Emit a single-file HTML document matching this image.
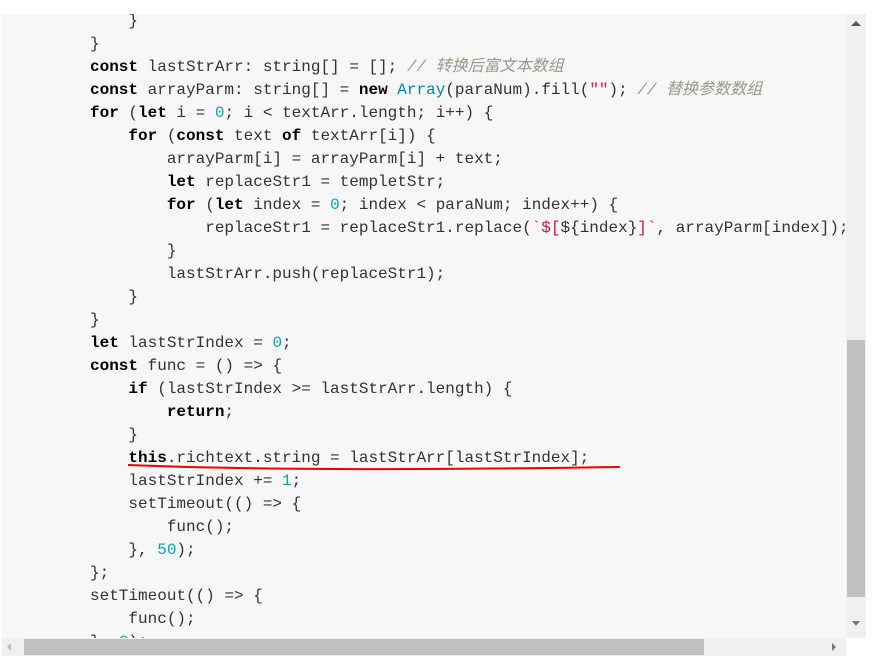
<!DOCTYPE html>
<html><head><meta charset="utf-8"><style>
body{margin:0;width:876px;height:670px;background:#fff;position:relative;overflow:hidden}
#box{position:absolute;left:2px;top:14px;width:844px;height:624px;background:#f7f7f7;overflow:hidden}
pre{position:absolute;left:88px;top:-4px;margin:0;font:16px/23px "Liberation Mono","Noto Sans CJK SC",monospace;color:#333}
b{color:#000}
.n{color:#0aa}.t{color:#0086b3}.s{color:#d14}.c{color:#998;font-style:italic}
#vs{position:absolute;left:846px;top:14px;width:20px;height:624px;background:#f0f0f0}
#vt{position:absolute;left:847px;top:340px;width:18px;height:257px;background:#c1c1c1}
#hs{position:absolute;left:2px;top:638px;width:844px;height:18px;background:#f0f0f0}
#ht{position:absolute;left:24px;top:639px;width:680px;height:16px;background:#c1c1c1}
.ar{position:absolute;width:0;height:0}
</style></head><body>
<div id="box"><pre>    }
}
<b>const</b> lastStrArr: string[] = []; <span class="c">// 转换后富文本数组</span>
<b>const</b> arrayParm: string[] = <b>new</b> <span class="t">Array</span>(paraNum).fill(<span class="s">""</span>); <span class="c">// 替换参数数组</span>
<b>for</b> (<b>let</b> i = <span class="n">0</span>; i &lt; textArr.length; i++) {
    <b>for</b> (<b>const</b> text <b>of</b> textArr[i]) {
        arrayParm[i] = arrayParm[i] + text;
        <b>let</b> replaceStr1 = templetStr;
        <b>for</b> (<b>let</b> index = <span class="n">0</span>; index &lt; paraNum; index++) {
            replaceStr1 = replaceStr1.replace(<span class="s">`$[</span>${index}<span class="s">]`</span>, arrayParm[index]);
        }
        lastStrArr.push(replaceStr1);
    }
}
<b>let</b> lastStrIndex = <span class="n">0</span>;
<b>const</b> func = () =&gt; {
    <b>if</b> (lastStrIndex &gt;= lastStrArr.length) {
        <b>return</b>;
    }
    <b>this</b>.richtext.string = lastStrArr[lastStrIndex];
    lastStrIndex += <span class="n">1</span>;
    setTimeout(() =&gt; {
        func();
    }, <span class="n">50</span>);
};
setTimeout(() =&gt; {
    func();
}, <span class="n">0</span>);
</pre>
<svg style="position:absolute;left:0;top:0" width="844" height="624"><path d="M126 451 Q300 458 618 453" stroke="#e00" stroke-width="2" fill="none"/></svg>
</div>
<div id="vs"></div><div id="vt"></div>
<div class="ar" style="left:851px;top:21px;border-left:5px solid transparent;border-right:5px solid transparent;border-bottom:5px solid #555"></div>
<div class="ar" style="left:852px;top:621px;border-left:4px solid transparent;border-right:4px solid transparent;border-top:5px solid #777"></div>
<div id="hs"></div><div id="ht"></div>
<div class="ar" style="left:7px;top:643px;border-top:4px solid transparent;border-bottom:4px solid transparent;border-right:4px solid #bbb"></div>
<div class="ar" style="left:832px;top:643px;border-top:4px solid transparent;border-bottom:4px solid transparent;border-left:4px solid #777"></div>
</body></html>
